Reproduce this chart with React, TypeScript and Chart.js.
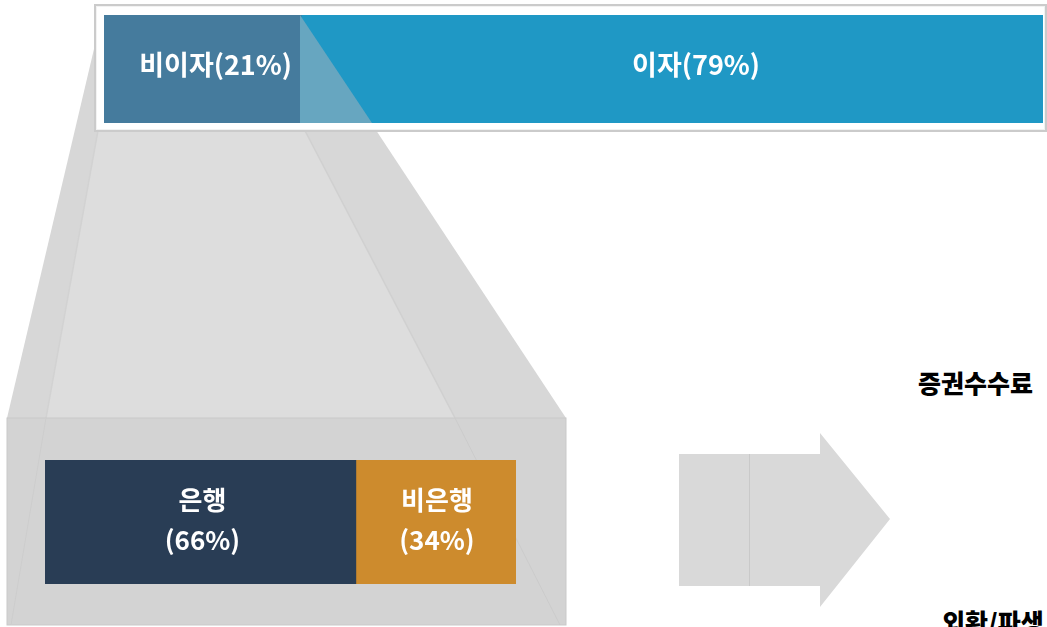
import React, { useEffect, useRef } from "react";
import { Chart, registerables } from "chart.js";

Chart.register(...registerables);

// ---- data ----
const topCategories = ["수익구성"];
const topNames = ["비이자", "이자"];
const topValues = [21, 79];
const topColors = ["#457b9d", "#1f98c5"];

const bottomCategories = ["비이자 수익"];
const bottomNames = ["은행", "비은행"];
const bottomValues = [66, 34];
const bottomColors = ["#293d55", "#cd8b2d"];

const sideTexts = ["증권수수료", "외환/파생"];

const FONT = '"Noto Sans CJK KR", "Noto Sans", sans-serif';

function makeLabelPlugin(linesFor: (i: number) => string[], fontPx: number, dx: number[], dy: number, lineGap: number) {
  return {
    id: "segLabels",
    afterDatasetsDraw(chart: any) {
      const ctx = chart.ctx;
      ctx.save();
      ctx.fillStyle = "#ffffff";
      ctx.font = `bold ${fontPx}px ${FONT}`;
      ctx.textAlign = "center";
      ctx.textBaseline = "middle";
      chart.data.datasets.forEach((_: any, i: number) => {
        const meta = chart.getDatasetMeta(i);
        const el: any = meta.data[0];
        if (!el) return;
        const cx = (el.x + el.base) / 2 + (dx[i] || 0);
        const lines = linesFor(i);
        const n = lines.length;
        lines.forEach((t, k) => {
          const cy = el.y + dy + (k - (n - 1) / 2) * lineGap;
          ctx.fillText(t, cx, cy);
        });
      });
      ctx.restore();
    },
  };
}

function StackBar(props: {
  categories: string[];
  names: string[];
  values: number[];
  colors: string[];
  width: number;
  height: number;
  style: React.CSSProperties;
  plugin: any;
}) {
  const ref = useRef<HTMLCanvasElement>(null);
  useEffect(() => {
    if (!ref.current) return;
    const chart = new Chart(ref.current, {
      type: "bar",
      data: {
        labels: props.categories,
        datasets: props.names.map((n, i) => ({
          label: n,
          data: [props.values[i]],
          backgroundColor: props.colors[i],
          borderWidth: 0,
          barPercentage: 1,
          categoryPercentage: 1,
        })),
      },
      options: {
        indexAxis: "y",
        responsive: false,
        maintainAspectRatio: false,
        animation: false,
        devicePixelRatio: 1,
        layout: { padding: 0 },
        plugins: { legend: { display: false }, tooltip: { enabled: false } },
        scales: {
          x: { display: false, stacked: true, min: 0, max: 100 },
          y: { display: false, stacked: true },
        },
      } as any,
      plugins: [props.plugin],
    });
    return () => chart.destroy();
  }, []);
  return <canvas ref={ref} width={props.width} height={props.height} style={props.style} />;
}

export default function App() {
  const topPlugin = makeLabelPlugin((i) => [`${topNames[i]}(${topValues[i]}%)`], 27, [13, 24], -4, 0);
  const bottomPlugin = makeLabelPlugin((i) => [bottomNames[i], `(${bottomValues[i]}%)`], 26, [2, 1], -2, 40);

  const sideStyle: React.CSSProperties = {
    position: "absolute",
    fontFamily: FONT,
    fontWeight: 900,
    fontSize: 25,
    lineHeight: "25px",
    color: "#000",
    whiteSpace: "nowrap",
  };

  return (
    <div
      style={{
        position: "fixed",
        left: 0,
        top: 0,
        width: 1047,
        height: 627,
        overflow: "hidden",
        background: "#ffffff",
      }}
    >
      {/* zoom trapezoid */}
      <svg width={1047} height={627} style={{ position: "absolute", left: 0, top: 0 }}>
        <polygon points="102,15 300,15 566,418 7,418" fill="#d7d7d7" />
        <polygon points="99,125 302,125 455,418 46,418" fill="#dddddd" />
        <line x1={99} y1={125} x2={46} y2={418} stroke="#d2d2d2" strokeWidth={1.5} />
        <line x1={302} y1={125} x2={455} y2={418} stroke="#d0d0d0" strokeWidth={1.5} />
        {/* lower box */}
        <rect x={7} y={418} width={559} height={207} fill="#d3d3d3" stroke="#c9c9c9" strokeWidth={1} />
        <line x1={46} y1={418} x2={11} y2={625} stroke="#cdcdcd" strokeWidth={1} />
        <line x1={455} y1={418} x2={560} y2={625} stroke="#cbcbcb" strokeWidth={1} />
        {/* arrow */}
        <polygon points="679,454 820,454 820,433 890,519 820,607 820,586 679,586" fill="#d9d9d9" />
        <line x1={749.5} y1={454} x2={749.5} y2={586} stroke="#c9c9c9" strokeWidth={1} />
      </svg>

      {/* top frame */}
      <div
        style={{
          position: "absolute",
          left: 94,
          top: 4,
          width: 1047 - 94 - 4,
          height: 124,
          border: "2px solid #cbcbcb",
          background: "#ffffff",
          boxShadow: "inset 0 0 0 1px #f2f2f2",
        }}
      />

      <StackBar
        categories={topCategories}
        names={topNames}
        values={topValues}
        colors={topColors}
        width={939}
        height={108}
        style={{ position: "absolute", left: 104, top: 15 }}
        plugin={topPlugin}
      />

      {/* overlay of trapezoid over the blue part */}
      <svg width={1047} height={140} style={{ position: "absolute", left: 0, top: 0 }}>
        <polygon points="300,15 372,123 300,123" fill="#67a6c0" />
      </svg>

      <StackBar
        categories={bottomCategories}
        names={bottomNames}
        values={bottomValues}
        colors={bottomColors}
        width={471}
        height={124}
        style={{ position: "absolute", left: 45, top: 460 }}
        plugin={bottomPlugin}
      />

      <div style={{ ...sideStyle, left: 918, top: 370 }}>{sideTexts[0]}</div>
      <div style={{ ...sideStyle, left: 942, top: 609 }}>{sideTexts[1]}</div>
    </div>
  );
}
